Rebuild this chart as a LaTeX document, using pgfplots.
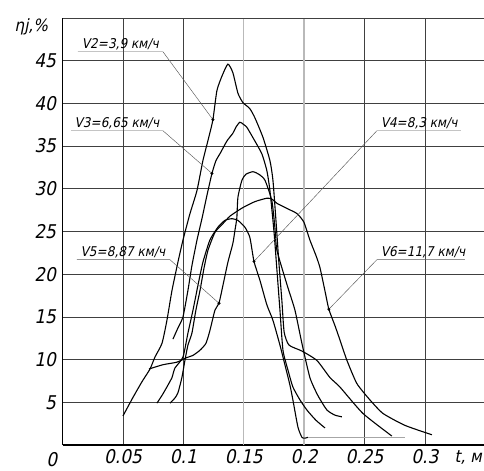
\documentclass[border=0pt]{standalone}
\usepackage{fontspec}
\setmainfont{DejaVu Sans Condensed}[FakeSlant=0.2]
\usepackage{pgfplots}
\pgfplotsset{compat=1.18}
\begin{document}
\begin{tikzpicture}
\begin{axis}[
  at={(0,0)}, anchor=south west,
  scale only axis, width=421.4bp, height=427bp,
  xmin=0, xmax=0.349, ymin=0, ymax=50,
  axis x line*=bottom, axis y line*=left,
  axis line style={black, line width=1.1bp},
  xtick={0.05,0.1,0.25,0.3},
  xticklabels={0.05,0.1,0.25,0.3},
  extra x ticks={0.15,0.2},
  extra x tick labels={0.15,0.2},
  extra x tick style={grid=major, major grid style={gray!55, line width=1.2bp}},
  ytick={5,10,15,20,25,30,35,40,45},
  yticklabels={5,10,15,20,25,30,35,40,45},
  extra y ticks={50}, extra y tick labels={},
  grid=major, major grid style={black!75, line width=0.6bp},
  tick style={draw=none},
  xticklabel style={font=\fontsize{19}{19}\selectfont, yshift=-1bp},
  yticklabel style={font=\fontsize{19}{19}\selectfont, xshift=-3bp},
  clip=false,
]
% V2
\addplot[black, line width=1.1bp, smooth, tension=0.35] coordinates {
(0.05,3.4)(0.058,5.5)(0.0657,7.4)(0.0724,8.9)(0.0765,10.3)(0.0823,11.9)(0.0864,14.6)
(0.0906,18.1)(0.0955,21.4)(0.0997,24.0)(0.1055,27.1)(0.1113,29.8)(0.1162,33.3)(0.1212,36.1)
(0.1245,38.1)(0.1278,41.5)(0.132,43.2)(0.1369,44.6)(0.141,43.6)(0.1452,41.2)(0.1493,40.1)
(0.155,39.4)(0.1593,38.3)(0.166,36.0)(0.1717,33.3)(0.1742,31.0)(0.1767,26.3)(0.179,21.6)
(0.1816,16.9)(0.1835,13.2)(0.1875,11.7)(0.1982,11.0)(0.2106,9.9)(0.2214,7.9)(0.2296,6.8)
(0.2487,3.7)(0.2727,1.05)};
% V3
\addplot[black, line width=1.1bp, smooth, tension=0.35] coordinates {
(0.0914,12.4)(0.0955,13.7)(0.0997,15.0)(0.1038,18.1)(0.1071,21.0)(0.1113,24.0)(0.1154,26.5)
(0.1195,29.2)(0.1237,31.8)(0.127,33.3)(0.1303,34.1)(0.1361,35.6)(0.141,36.5)(0.1435,37.2)
(0.1468,37.8)(0.1502,37.5)(0.1526,37.2)(0.1576,36.0)(0.165,34.1)(0.1692,32.1)(0.1717,29.8)
(0.175,25.1)(0.1775,20.5)(0.18,15.8)(0.1825,11.1)(0.1866,8.8)(0.1907,6.8)(0.1965,5.3)
(0.2023,4.1)(0.2098,2.9)(0.2173,2.0)};
% V4
\addplot[black, line width=1.1bp, smooth, tension=0.35] coordinates {
(0.0781,4.9)(0.0823,5.8)(0.0864,6.8)(0.0906,7.9)(0.093,9.0)(0.0997,10.3)(0.1038,13.1)
(0.108,15.8)(0.1121,18.7)(0.1162,21.4)(0.122,24.0)(0.1286,25.5)(0.1344,26.3)(0.1402,26.5)
(0.1452,26.3)(0.151,25.5)(0.1551,24.3)(0.1585,21.5)(0.1634,19.3)(0.1692,16.4)(0.1742,14.6)
(0.18,11.7)(0.1841,9.4)(0.1883,7.0)(0.1907,5.3)(0.1949,2.1)(0.1982,0.9)(0.2007,0.8)(0.2032,0.9)};
\addplot[gray!70, line width=1.4bp] coordinates {(0.2032,0.9)(0.2835,0.9)};
% V5
\addplot[black, line width=1.1bp, smooth, tension=0.35] coordinates {
(0.0715,8.9)(0.0831,9.4)(0.0947,9.7)(0.1022,10.2)(0.108,10.5)(0.1138,11.1)(0.1187,11.9)
(0.122,13.4)(0.1262,15.8)(0.1295,16.6)(0.1328,18.7)(0.1369,21.4)(0.141,23.6)(0.1427,25.1)
(0.1443,26.6)(0.1452,29.0)(0.1485,31.0)(0.1518,31.7)(0.1576,32.0)(0.1626,31.7)(0.1676,31.0)
(0.1733,28.6)(0.1758,25.5)(0.1775,22.8)(0.186,18.7)(0.1924,15.8)(0.1982,11.9)(0.2048,7.9)
(0.2114,5.8)(0.2189,4.1)(0.2255,3.5)(0.2313,3.3)};
% V6
\addplot[black, line width=1.1bp, smooth, tension=0.35] coordinates {
(0.0889,4.9)(0.093,5.5)(0.0955,6.1)(0.0988,7.9)(0.1013,9.9)(0.1038,11.7)(0.1071,13.1)
(0.1104,15.8)(0.1138,18.1)(0.1171,20.7)(0.1204,22.8)(0.1262,24.9)(0.132,25.8)(0.1386,26.8)
(0.1493,27.8)(0.1593,28.5)(0.1692,28.9)(0.1733,28.8)(0.1775,28.3)(0.1858,27.7)(0.1941,27.1)
(0.1998,26.1)(0.2048,24.0)(0.2098,22.2)(0.2131,20.8)(0.2172,18.1)(0.2205,15.9)(0.2255,14.0)
(0.2297,12.3)(0.2355,9.9)(0.2437,7.2)(0.2544,5.3)(0.2653,3.7)(0.2835,2.3)(0.3058,1.2)};
% leaders
\addplot[black!65, line width=0.45bp] coordinates {(0.0127,46.05)(0.0831,46.05)(0.1245,38.1)};
\addplot[black!65, line width=0.45bp] coordinates {(0.007,36.8)(0.0831,36.8)(0.1237,31.8)};
\addplot[black!65, line width=0.45bp] coordinates {(0.3298,36.8)(0.2603,36.8)(0.1585,21.5)};
\addplot[black!65, line width=0.45bp] coordinates {(0.0119,21.7)(0.0889,21.7)(0.1295,16.6)};
\addplot[black!65, line width=0.45bp] coordinates {(0.3331,21.7)(0.2603,21.7)(0.2205,15.9)};
\addplot[only marks, mark=*, mark size=1.3bp, black] coordinates {
(0.1245,38.1)(0.1237,31.8)(0.1585,21.5)(0.1295,16.6)(0.2205,15.9)};
% labels
\node[anchor=south west, inner sep=1bp, font=\fontsize{13.5}{13.5}\selectfont] at (axis cs:0.015,46.1) {V2=3,9 км/ч};
\node[anchor=south west, inner sep=1bp, font=\fontsize{13.5}{13.5}\selectfont] at (axis cs:0.009,36.85) {V3=6,65 км/ч};
\node[anchor=south west, inner sep=1bp, font=\fontsize{13.5}{13.5}\selectfont] at (axis cs:0.2625,36.85) {V4=8,3 км/ч};
\node[anchor=south west, inner sep=1bp, font=\fontsize{13.5}{13.5}\selectfont] at (axis cs:0.014,21.75) {V5=8,87 км/ч};
\node[anchor=south west, inner sep=1bp, font=\fontsize{13.5}{13.5}\selectfont] at (axis cs:0.2625,21.75) {V6=11,7 км/ч};
\node[font=\fontsize{19}{19}\selectfont, anchor=north, yshift=-4bp] at (axis cs:-0.009,0) {0};
\node[font=\fontsize{17}{17}\selectfont, anchor=north, yshift=-2bp] at (axis cs:0.336,0) {t, м};
\node[font=\fontsize{17}{17}\selectfont, anchor=center] at (axis cs:-0.026,49.0) {ηj,\%};
\end{axis}
\pgfresetboundingbox
\path (-62.6bp,-26bp) rectangle (421.4bp,445bp);
\end{tikzpicture}
\end{document}
